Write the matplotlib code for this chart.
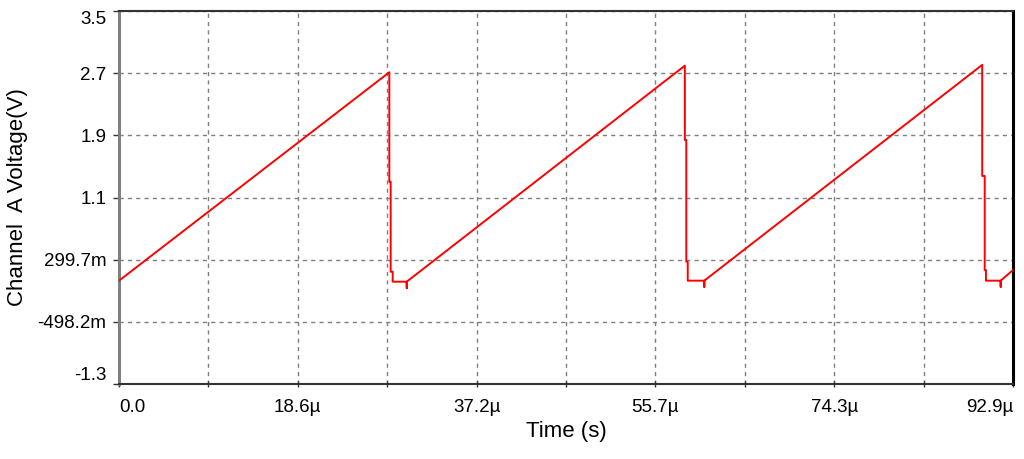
import numpy as np
import matplotlib
matplotlib.use("Agg")
import matplotlib.pyplot as plt

# ---------- data (time in µs, volts) ----------
t_us = [0.0, 28.09, 28.09, 28.23, 28.23, 28.44, 28.44, 29.90, 29.90, 29.90,
        58.80, 58.80, 58.95, 58.95, 59.10, 59.10, 60.82, 60.82, 60.82,
        89.70, 89.70, 89.96, 89.96, 90.09, 90.09, 91.62, 91.62, 91.62, 92.90]
volts = [0.03, 2.705, 1.30, 1.30, 0.145, 0.145, 0.017, 0.017, -0.066, 0.017,
         2.79, 1.836, 1.836, 0.274, 0.274, 0.03, 0.03, -0.05, 0.03,
         2.80, 1.374, 1.374, 0.167, 0.167, 0.03, 0.03, -0.05, 0.03, 0.167]

x_max = 92.9
y_min, y_max = -1.2961, 3.4913
x_labels = ["0.0", "18.6µ", "37.2µ", "55.7µ", "74.3µ", "92.9µ"]
y_labels = ["-1.3", "-498.2m", "299.7m", "1.1", "1.9", "2.7", "3.5"]

plt.rcParams['font.family'] = ['Liberation Sans', 'DejaVu Sans']

fig = plt.figure(figsize=(10.24, 4.59), dpi=100)
ax = fig.add_axes([119/1024, 75/459, 894/1024, 373/459])

ax.plot(t_us, volts, color="#ff0000", linewidth=1.4, zorder=3)

ax.set_xlim(0, x_max)
ax.set_ylim(y_min, y_max)

xt = np.linspace(0, x_max, len(x_labels))
yt = np.linspace(y_min, y_max, len(y_labels))
ax.set_xticks(xt)
ax.set_xticklabels(x_labels)
ax.set_xticks((xt[:-1] + xt[1:]) / 2, minor=True)
ax.set_yticks(yt)
ax.set_yticklabels(y_labels)

grid_kw = dict(color="#7f7f7f", linewidth=1.0, linestyle=(0, (3, 3)))
ax.grid(True, which="both", axis="x", **grid_kw)
ax.grid(True, which="major", axis="y", **grid_kw)

ax.tick_params(axis="x", which="both", direction="inout", length=5,
               width=1, color="#333333", pad=8, labelsize=13.5)
ax.tick_params(axis="y", direction="out", length=4, width=1,
               color="#333333", pad=5, labelsize=13.5)

# keep end labels inside the frame like the scope does
xl = ax.get_xticklabels()
xl[0].set_ha("left")
xl[-1].set_ha("right")
yl = ax.get_yticklabels()
yl[0].set_va("bottom")
yl[-1].set_va("top")

ax.spines["left"].set_color("#808080")
ax.spines["left"].set_linewidth(2.2)
ax.spines["bottom"].set_color("#333333")
ax.spines["bottom"].set_linewidth(1.5)
ax.spines["top"].set_color("#333333")
ax.spines["top"].set_linewidth(1.5)
ax.spines["right"].set_color("#000000")
ax.spines["right"].set_linewidth(2.2)

ax.set_xlabel("Time (s)", fontsize=16, labelpad=4)
ax.set_ylabel("Channel  A Voltage(V)", fontsize=16, labelpad=7)

fig.savefig("out.png", dpi=100)
